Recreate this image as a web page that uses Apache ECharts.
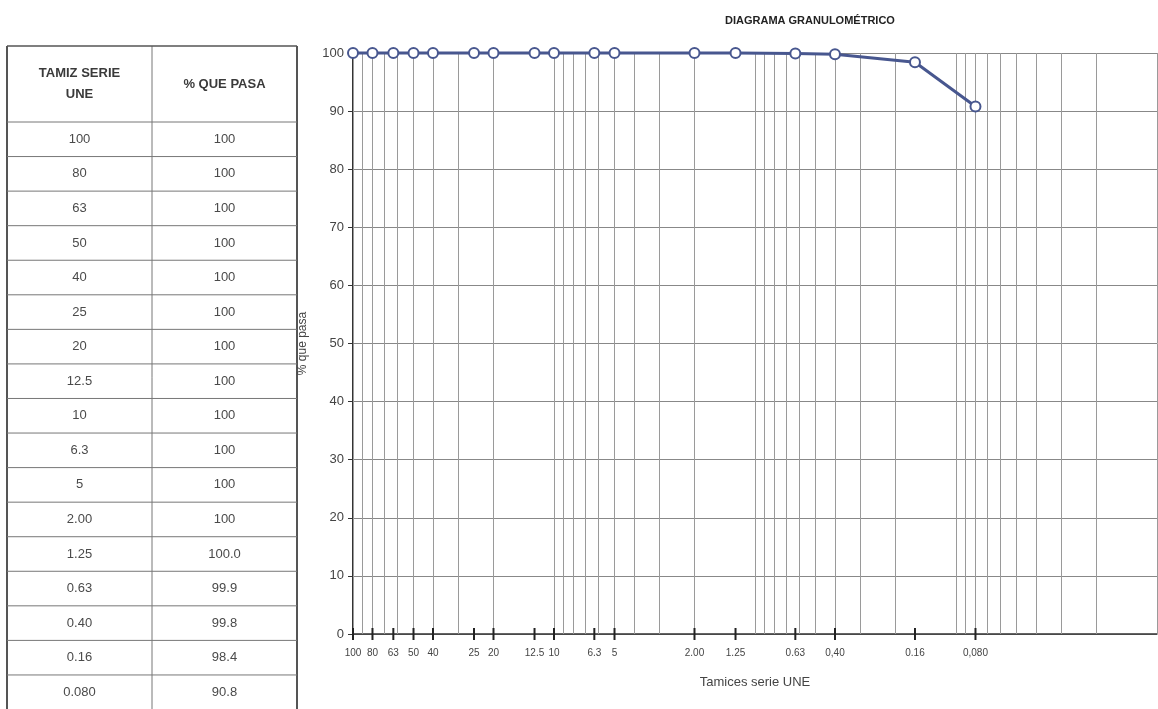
<!DOCTYPE html>
<html>
<head>
<meta charset="utf-8">
<script src="https://cdn.jsdelivr.net/npm/echarts@6/dist/echarts.min.js"></script>
<style>
html,body{margin:0;padding:0;background:#fff;}
#chart{width:1158px;height:709px;}
</style>
</head>
<body>
<div id="chart"></div>
<script>
// ---- data ----
const sieves = [100, 80, 63, 50, 40, 25, 20, 12.5, 10, 6.3, 5, 2.00, 1.25, 0.63, 0.40, 0.16, 0.080];
const passPct = [100, 100, 100, 100, 100, 100, 100, 100, 100, 100, 100, 100, 100.0, 99.9, 99.8, 98.4, 90.8];
const tableSieveLabels = ['100', '80', '63', '50', '40', '25', '20', '12.5', '10', '6.3', '5', '2.00', '1.25', '0.63', '0.40', '0.16', '0.080'];
const tablePassLabels = ['100', '100', '100', '100', '100', '100', '100', '100', '100', '100', '100', '100', '100.0', '99.9', '99.8', '98.4', '90.8'];
const axisTickLabels = ['100', '80', '63', '50', '40', '25', '20', '12.5', '10', '6.3', '5', '2.00', '1.25', '0.63', '0,40', '0.16', '0,080'];
const logGridValues = [100, 90, 80, 70, 60, 50, 40, 30, 20, 10, 9, 8, 7, 6, 5, 4, 3, 2, 1,
  0.9, 0.8, 0.7, 0.6, 0.5, 0.4, 0.3, 0.2, 0.1, 0.09, 0.08, 0.07, 0.06, 0.05, 0.04, 0.03, 0.02, 0.01];
const tableHeaders = ['TAMIZ SERIE\nUNE', '% QUE PASA'];
const titleText = 'DIAGRAMA GRANULOMÉTRICO';
const xName = 'Tamices serie UNE';
const yName = '% que pasa';

// ---- table layout (graphic) ----
const T = { left: 7, mid: 152, right: 297, top: 46, headBottom: 122, rowH: 34.56 };
const FONT = 'Arial, "Liberation Sans", sans-serif';
const graphics = [];
function hline(y, x1, x2, w, c) {
  graphics.push({ type: 'line', silent: true, shape: { x1: x1, y1: y, x2: x2, y2: y }, style: { stroke: c || '#6a6a6a', lineWidth: w || 1 } });
}
function vline(x, y1, y2, w, c) {
  graphics.push({ type: 'line', silent: true, shape: { x1: x, y1: y1, x2: x, y2: y2 }, style: { stroke: c || '#6a6a6a', lineWidth: w || 1 } });
}
const tableBottom = T.headBottom + T.rowH * tableSieveLabels.length;
vline(T.left, T.top, tableBottom, 2, '#555');
vline(T.mid, T.top, tableBottom, 1, '#777');
vline(T.right, T.top, tableBottom, 2, '#555');
hline(T.top, T.left, T.right, 1.5, '#555');
hline(T.headBottom, T.left, T.right, 1, '#777');
for (let i = 1; i <= tableSieveLabels.length; i++) {
  hline(T.headBottom + T.rowH * i, T.left, T.right, 1, '#777');
}
const c1 = (T.left + T.mid) / 2, c2 = (T.mid + T.right) / 2;
const hc = (T.top + T.headBottom) / 2;
graphics.push({ type: 'text', silent: true, x: c1, y: hc, style: { text: tableHeaders[0], align: 'center', verticalAlign: 'middle', fontSize: 13, fontWeight: 'bold', fontFamily: FONT, fill: '#3a3a3a', lineHeight: 21 } });
graphics.push({ type: 'text', silent: true, x: c2, y: hc, style: { text: tableHeaders[1], align: 'center', verticalAlign: 'middle', fontSize: 13, fontWeight: 'bold', fontFamily: FONT, fill: '#3a3a3a' } });
tableSieveLabels.forEach(function (lab, i) {
  const cy = T.headBottom + T.rowH * (i + 0.5);
  graphics.push({ type: 'text', silent: true, x: c1, y: cy, style: { text: lab, align: 'center', verticalAlign: 'middle', fontSize: 13, fontFamily: FONT, fill: '#4a4a4a' } });
  graphics.push({ type: 'text', silent: true, x: c2, y: cy, style: { text: tablePassLabels[i], align: 'center', verticalAlign: 'middle', fontSize: 13, fontFamily: FONT, fill: '#4a4a4a' } });
});

// ---- chart ----
const chart = echarts.init(document.getElementById('chart'), null, { renderer: 'canvas' });
const option = {
  backgroundColor: '#ffffff',
  animation: false,
  textStyle: { fontFamily: FONT },
  title: {
    text: titleText,
    left: 720, top: 10,
    textStyle: { fontSize: 11, fontWeight: 'bold', color: '#222', fontFamily: FONT }
  },
  grid: { left: 353, right: 1, top: 53, bottom: 75, containLabel: false },
  xAxis: {
    type: 'log', logBase: 10, inverse: true, min: 0.01, max: 100,
    name: xName, nameLocation: 'middle', nameGap: 42,
    nameTextStyle: { fontSize: 13, color: '#444', fontFamily: FONT },
    axisLine: { show: true, onZero: false, lineStyle: { color: '#333', width: 1.5 } },
    axisTick: { show: false },
    axisLabel: { show: false },
    splitLine: { show: false },
    minorSplitLine: { show: false }
  },
  yAxis: {
    type: 'value', min: 0, max: 100, interval: 10,
    name: yName, nameLocation: 'middle', nameGap: 44, nameRotate: 90,
    nameTextStyle: { fontSize: 12, color: '#444', fontFamily: FONT },
    axisLine: { show: true, lineStyle: { color: '#333', width: 2 } },
    axisTick: { show: true, length: 5, lineStyle: { color: '#333' } },
    axisLabel: { fontSize: 13, color: '#444', margin: 9, fontFamily: FONT },
    splitLine: { show: true, lineStyle: { color: '#888', width: 1 } }
  },
  graphic: graphics,
  series: [
    {
      type: 'line',
      name: 'grid',
      silent: true,
      data: [],
      z: 1,
      markLine: {
        silent: true,
        z: 1,
        symbol: ['none', 'none'],
        label: { show: false },
        lineStyle: { color: '#9a9a9a', width: 1, type: 'solid' },
        emphasis: { disabled: true },
        data: logGridValues.map(function (v) { return { xAxis: v }; })
      }
    },
    {
      type: 'scatter',
      name: 'ticks',
      silent: true,
      clip: false,
      z: 6,
      symbol: 'rect',
      symbolSize: [2, 12],
      itemStyle: { color: '#222', opacity: 1 },
      emphasis: { disabled: true },
      data: sieves.map(function (s, i) { return { value: [s, 0], label: { formatter: axisTickLabels[i] } }; }),
      label: { show: true, position: 'bottom', distance: 8, offset: [-3, 0], fontSize: 10, color: '#444', fontFamily: FONT },
      labelLayout: { hideOverlap: false }
    },
    {
      type: 'line',
      name: '% que pasa',
      z: 5,
      data: sieves.map(function (s, i) { return [s, passPct[i]]; }),
      symbol: 'emptyCircle',
      symbolSize: 10,
      clip: false,
      lineStyle: { color: '#48578f', width: 3 },
      itemStyle: { color: '#48578f', borderColor: '#48578f', borderWidth: 2 }
    }
  ]
};
chart.setOption(option);
</script>
</body>
</html>
